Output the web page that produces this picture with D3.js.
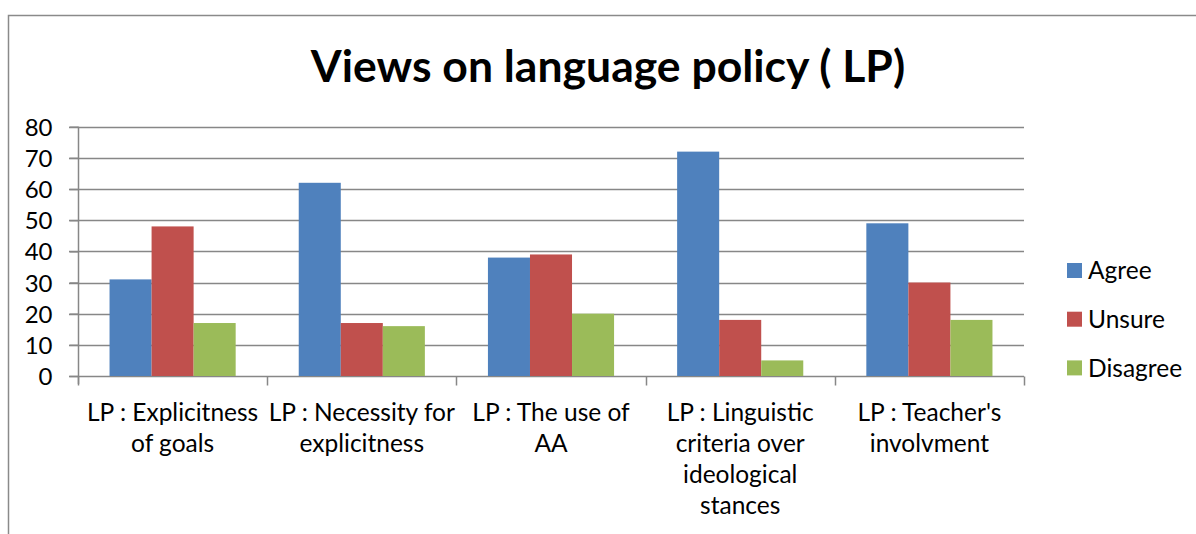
<!DOCTYPE html>
<html>
<head>
<meta charset="utf-8">
<script src="https://cdn.jsdelivr.net/npm/d3@7/dist/d3.min.js"></script>
<style>
  body { margin: 0; background: #fff; }
  svg { display: block; }
  text { font-family: Lato, "Open Sans", sans-serif; fill: #000; }
</style>
</head>
<body>
<svg id="chart" width="1196" height="534"></svg>
<script>
// Survey responses per language-policy statement (percent)
const categories = [
  "LP : Explicitness\nof goals",
  "LP : Necessity for\nexplicitness",
  "LP : The use of\nAA",
  "LP : Linguistic\ncriteria over\nideological\nstances",
  "LP : Teacher's\ninvolvment"
];
const seriesNames = ["Agree", "Unsure", "Disagree"];
const agree    = [31, 62, 38, 72, 49];
const unsure   = [48, 17, 39, 18, 30];
const disagree = [17, 16, 20, 5, 18];
const yTicks = [0, 10, 20, 30, 40, 50, 60, 70, 80];
const titleText = "Views on language policy ( LP)";

const seriesValues = { Agree: agree, Unsure: unsure, Disagree: disagree };
const colors = d3.scaleOrdinal().domain(seriesNames).range(["#4F81BD", "#C0504D", "#9BBB59"]);

const svg = d3.select("#chart");
const gray = "#878787";
const plot = { left: 78, right: 1024, top: 126.7, bottom: 376 };

// outer chart frame
svg.append("rect")
  .attr("x", 8.5).attr("y", 15.5)
  .attr("width", 1240).attr("height", 600)
  .attr("fill", "none").attr("stroke", "#8a8a8a").attr("stroke-width", 1.5);

// title
svg.append("text")
  .attr("x", 608).attr("y", 82)
  .attr("text-anchor", "middle")
  .style("font-size", "44.5px").style("font-weight", "bold")
  .text(titleText);

const x0 = d3.scaleBand().domain(categories).range([plot.left, plot.right]).paddingInner(0).paddingOuter(0);
const x1 = d3.scaleBand().domain(seriesNames).range([0, x0.bandwidth()]).paddingInner(0).paddingOuter(0.75);
const y = d3.scaleLinear().domain([0, 80]).range([plot.bottom, plot.top]);

// horizontal gridlines
svg.append("g").selectAll("line").data(yTicks).join("line")
  .attr("x1", plot.left - 9).attr("x2", plot.right)
  .attr("y1", d => Math.round(y(d)) + 0.5).attr("y2", d => Math.round(y(d)) + 0.5)
  .attr("stroke", gray).attr("stroke-width", 1.5);

// y axis with labels
const yAxis = svg.append("g")
  .attr("transform", `translate(${plot.left + 0.5},0)`)
  .call(d3.axisLeft(y).tickValues(yTicks).tickSize(9).tickSizeOuter(0).tickPadding(17));
yAxis.select(".domain").attr("stroke", gray).attr("stroke-width", 1.5)
  .attr("d", `M0,${plot.top}V${plot.bottom + 8}`);
yAxis.selectAll(".tick line").attr("stroke", gray).attr("stroke-width", 1.5);
yAxis.selectAll(".tick text").style("font-size", "24px").style("font-family", "Lato, sans-serif").attr("dy", "0.36em");

// bars
const groups = svg.append("g").selectAll("g").data(categories).join("g")
  .attr("transform", d => `translate(${x0(d)},0)`);
groups.selectAll("rect")
  .data((c, i) => seriesNames.map(s => ({ s, v: seriesValues[s][i] })))
  .join("rect")
  .attr("x", d => x1(d.s))
  .attr("width", x1.bandwidth())
  .attr("y", d => y(d.v))
  .attr("height", d => y(0) - y(d.v))
  .attr("fill", d => colors(d.s));

// category axis: boundary ticks and wrapped labels
const xAxis = svg.append("g")
  .attr("transform", `translate(0,${Math.round(plot.bottom) + 0.5})`)
  .call(d3.axisBottom(x0).tickSize(0).tickPadding(0));
xAxis.select(".domain").remove();
const bounds = categories.map(c => x0(c)).concat([plot.right]);
xAxis.selectAll(".bound").data(bounds).join("line")
  .attr("class", "bound")
  .attr("x1", d => Math.round(d) + 0.5).attr("x2", d => Math.round(d) + 0.5)
  .attr("y1", 0).attr("y2", 9)
  .attr("stroke", gray).attr("stroke-width", 1.5);
xAxis.selectAll(".tick text").each(function (d) {
  const t = d3.select(this).text(null).attr("dy", null)
    .style("font-size", "24.5px").style("font-family", "Lato, sans-serif");
  d.split("\n").forEach((line, i) => {
    t.append("tspan").attr("x", 0).attr("y", 44 + i * 31.3).text(line);
  });
});

// legend
const legend = svg.append("g").selectAll("g").data(seriesNames).join("g")
  .attr("transform", (d, i) => `translate(1067,${270.5 + i * 48.7})`);
legend.append("rect").attr("x", 0).attr("y", -7.5).attr("width", 15).attr("height", 15)
  .attr("fill", d => colors(d));
legend.append("text").attr("x", 21).attr("y", 0).attr("dy", "0.36em")
  .style("font-size", "24.5px").text(d => d);
</script>
</body>
</html>
